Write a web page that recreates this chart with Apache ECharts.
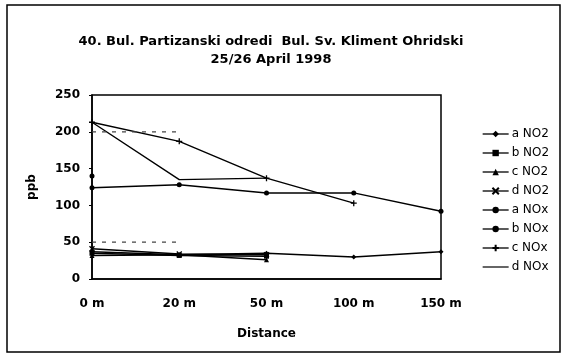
<!DOCTYPE html>
<html>
<head>
<meta charset="utf-8">
<script src="https://cdn.jsdelivr.net/npm/echarts@6/dist/echarts.min.js"></script>
<style>
  html, body { margin: 0; padding: 0; background: #fff; }
  #chart { width: 566px; height: 359px; }
</style>
</head>
<body>
<div id="chart"></div>
<script>
// Measurement points along the street
const distances = ['0 m', '20 m', '50 m', '100 m', '150 m'];
const yTicks = [0, 50, 100, 150, 200, 250];

// NO2 concentrations (ppb)
const aNO2 = [37, 33, 35, 30, 37];
const bNO2 = [35, 32, 31, null, null];
const cNO2 = [32, 33, 26, null, null];
const dNO2 = [41, 34, 33, null, null];

// NOx concentrations (ppb)
const aNOx = [140, null, null, null, null];
const bNOx = [124, 128, 117, 117, 92];
const cNOx = [213, 187, 137, 103, null];
const dNOx = [213, 135, 137, null, null];

// faint reference levels
const limitHigh = [200, 200, null, null, null];
const limitLow = [50, 50, null, null, null];

const FONT = 'DejaVu Sans, Verdana, sans-serif';

function line(name, data, symbol, size, extra) {
  return Object.assign({
    name: name,
    type: 'line',
    data: data,
    symbol: symbol,
    symbolSize: size,
    showSymbol: symbol !== 'none',
    connectNulls: false,
    color: '#000',
    itemStyle: { color: '#000' },
    lineStyle: { color: '#000', width: 1.5 },
    animation: false
  }, extra || {});
}

const crossStyle = { itemStyle: { color: '#000', borderColor: '#000', borderWidth: 1.3 } };

const series = [
  line('a NO2', aNO2, 'diamond', 5),
  line('b NO2', bNO2, 'rect', 5),
  line('c NO2', cNO2, 'triangle', 5),
  line('d NO2', dNO2, 'path://M0,0 L10,10 M10,0 L0,10', 5, crossStyle),
  line('a NOx', aNOx, 'circle', 5),
  line('b NOx', bNOx, 'circle', 5),
  line('c NOx', cNOx, 'path://M0,5 L10,5 M5,0 L5,10', 6, Object.assign({ lineStyle: { color: '#000', width: 1.4 } }, crossStyle)),
  line('d NOx', dNOx, 'none', 0, { lineStyle: { color: '#000', width: 1.4 } }),
  line('limit high', limitHigh, 'none', 0, { lineStyle: { color: '#444', width: 1.2, type: [4, 6] } }),
  line('limit low', limitLow, 'none', 0, { lineStyle: { color: '#444', width: 1.2, type: [4, 6] } })
];

const legendNames = ['a NO2', 'b NO2', 'c NO2', 'd NO2', 'a NOx', 'b NOx', 'c NOx', 'd NOx'];

const chart = echarts.init(document.getElementById('chart'), null, { renderer: 'canvas' });
chart.setOption({
  backgroundColor: '#fff',
  textStyle: { fontFamily: FONT, color: '#000' },
  title: {
    text: '40. Bul. Partizanski odredi  Bul. Sv. Kliment Ohridski\n25/26 April 1998',
    left: 266,
    textAlign: 'center',
    top: 28,
    textStyle: { fontFamily: FONT, fontSize: 13, fontWeight: 'bold', color: '#000', lineHeight: 18 }
  },
  legend: {
    orient: 'vertical',
    left: 477,
    top: 123,
    itemWidth: 26,
    itemHeight: 8,
    itemGap: 7,
    lineStyle: { width: 1.3 },
    data: legendNames.map(n => n === 'd NOx'
      ? { name: n, icon: 'path://M0,4.4 L26,4.4 L26,5.6 L0,5.6 Z' }
      : n),
    textStyle: { fontFamily: FONT, fontSize: 12, color: '#000', lineHeight: 12, height: 12, padding: [0, 0, 0, -2] }
  },
  grid: {
    left: 92, right: 125, top: 95, bottom: 80,
    show: true, borderColor: '#000', borderWidth: 1.5, backgroundColor: 'transparent'
  },
  xAxis: {
    type: 'category',
    data: distances,
    boundaryGap: false,
    axisLine: { lineStyle: { color: '#000', width: 1.5 } },
    axisTick: { show: false },
    axisLabel: { color: '#000', fontFamily: FONT, fontSize: 12, fontWeight: 'bold', margin: 19 },
    name: 'Distance',
    nameLocation: 'middle',
    nameGap: 49,
    nameTextStyle: { color: '#000', fontFamily: FONT, fontSize: 12, fontWeight: 'bold' }
  },
  yAxis: {
    type: 'value',
    min: yTicks[0],
    max: yTicks[yTicks.length - 1],
    interval: yTicks[1] - yTicks[0],
    splitLine: { show: false },
    axisLine: { show: true, lineStyle: { color: '#000', width: 1.5 } },
    axisTick: { show: true, length: 3, lineStyle: { color: '#000' } },
    axisLabel: { color: '#000', fontFamily: FONT, fontSize: 12, fontWeight: 'bold', margin: 12 },
    name: 'ppb',
    nameLocation: 'middle',
    nameGap: 54,
    nameRotate: 90,
    nameTextStyle: { color: '#000', fontFamily: FONT, fontSize: 12, fontWeight: 'bold' }
  },
  graphic: [{
    type: 'rect',
    shape: { x: 7, y: 5, width: 553, height: 347 },
    style: { fill: 'none', stroke: '#000', lineWidth: 1.5 },
    silent: true
  }],
  series: series
});
</script>
</body>
</html>
